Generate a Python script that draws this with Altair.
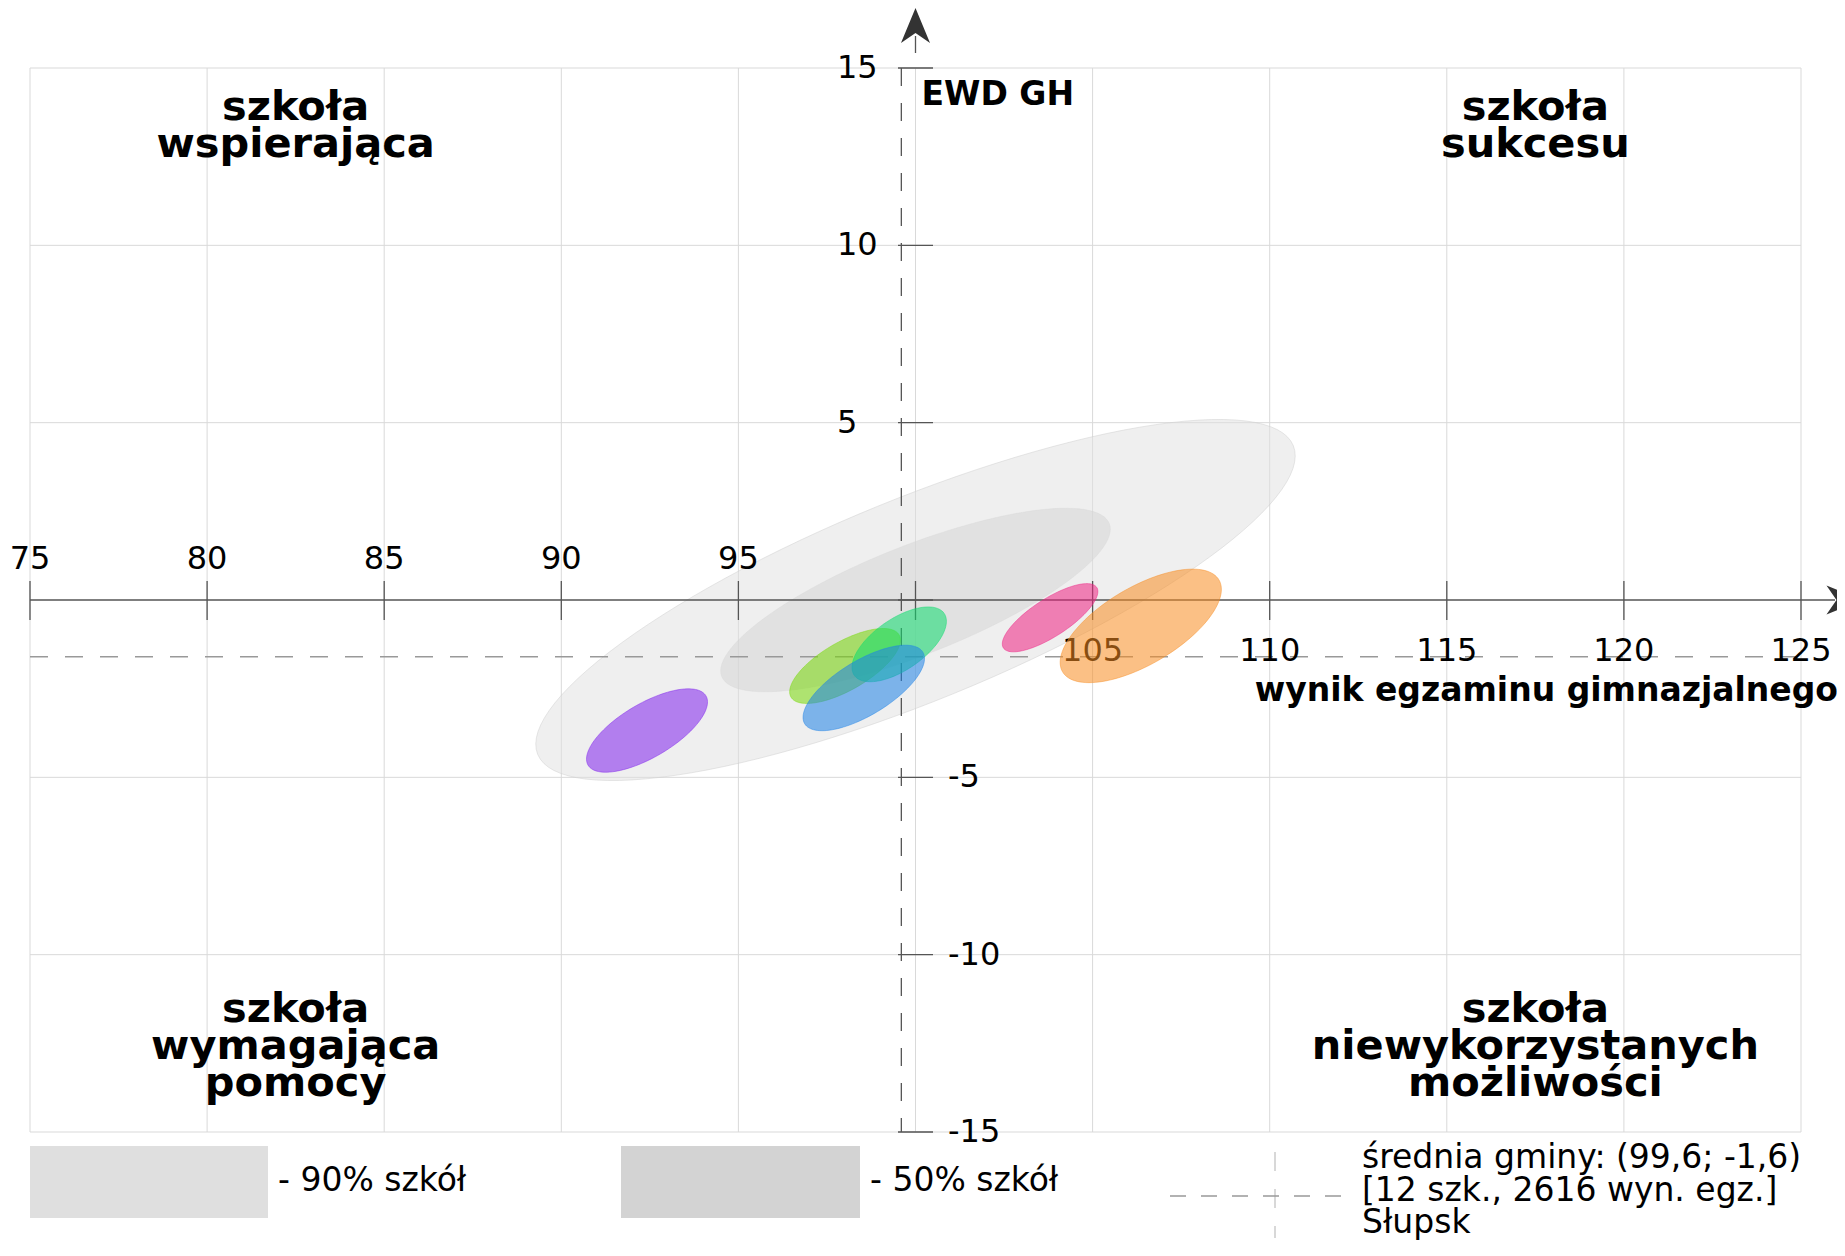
import altair as alt
import pandas as pd

# ---------------- data ----------------
x_ticks = [75, 80, 85, 90, 95, 100, 105, 110, 115, 120, 125]
y_ticks = [-15, -10, -5, 0, 5, 10, 15]
x_labels_above = [75, 80, 85, 90, 95]
x_labels_below = [105, 110, 115, 120, 125]
y_labels_left = [5, 10, 15]
y_labels_left_txt = ["5", "10", "15"]
y_labels_right = [-5, -10, -15]
y_labels_right_txt = ["-5", "-10", "-15"]

# ellipses: population (90%, 50%) and schools
ell_names = ["p90", "p50", "s1", "s2", "s3", "s4", "s5", "s6"]
ell_cx = [100.0, 100.0, 92.42, 98.01, 99.54, 98.54, 103.80, 106.36]
ell_cy = [0.0, 0.0, -3.68, -1.86, -1.25, -2.48, -0.50, -0.73]
ell_a = [11.52, 5.88, 1.93, 1.76, 1.54, 1.95, 1.57, 2.56]
ell_b = [2.85, 1.54, 0.76, 0.68, 0.72, 0.77, 0.53, 1.09]
ell_angle = [22.2, 21.5, 30.4, 29.9, 34.5, 31.2, 32.9, 30.4]

mean_x = 99.6
mean_y = -1.6

quad_x = [82.5, 117.5, 82.5, 117.5]
quad_y = [13.52, 13.52, -11.90, -11.90]
quad_text = ["szkoła\nwspierająca", "szkoła\nsukcesu",
             "szkoła\nwymagająca\npomocy", "szkoła\nniewykorzystanych\nmożliwości"]

legend_lines = ["średnia gminy: (99,6; -1,6)", "[12 szk., 2616 wyn. egz.]", "Słupsk"]

# ---------------- style ----------------
FONT = "DejaVu Sans"
W, H = 1771, 1064
ell_style = {
    "p90": ("#dfdfdf", 0.5, "#d0d0d0", 0.5),
    "p50": ("#d3d3d3", 0.5, "#d3d3d3", 0.3),
    "s1": ("#7f21ed", 0.55, "#7f21ed", 0.45),
    "s2": ("#78d907", 0.55, "#78d907", 0.45),
    "s3": ("#0ddc6e", 0.55, "#0ddc6e", 0.45),
    "s4": ("#1e82e6", 0.55, "#1e82e6", 0.45),
    "s5": ("#ee2182", 0.55, "#ee2182", 0.45),
    "s6": ("#f78c21", 0.55, "#f78c21", 0.45),
}

xs = alt.Scale(domain=[75, 125], nice=False, zero=False)
ys = alt.Scale(domain=[-15, 15], nice=False, zero=False)


def X(f):
    return alt.X(f, type="quantitative", scale=xs, axis=None)


def Y(f):
    return alt.Y(f, type="quantitative", scale=ys, axis=None)


def XD(v):
    return alt.XDatum(v, scale=xs, axis=None)


def YD(v):
    return alt.YDatum(v, scale=ys, axis=None)


one = pd.DataFrame({"k": [0]})
layers = []

# grid
layers.append(alt.Chart(pd.DataFrame({"v": x_ticks})).mark_rule(color="#d9d9d9", strokeWidth=1).encode(
    x=X("v:Q"), y=YD(-15), y2=alt.datum(15)))
layers.append(alt.Chart(pd.DataFrame({"v": y_ticks[:3] + y_ticks[4:]})).mark_rule(color="#d9d9d9", strokeWidth=1).encode(
    y=Y("v:Q"), x=XD(75), x2=alt.datum(125)))

# ellipses
ell_df = pd.DataFrame({"name": ell_names, "cx": ell_cx, "cy": ell_cy,
                       "a": ell_a, "b": ell_b, "ang": ell_angle})
ell_base = (alt.Chart(ell_df)
            .transform_calculate(t="sequence(0, 362, 3)")
            .transform_flatten(["t"])
            .transform_calculate(r="datum.t * PI / 180")
            .transform_calculate(q="datum.ang * PI / 180")
            .transform_calculate(px="datum.cx + datum.a*cos(datum.r)*cos(datum.q) - datum.b*sin(datum.r)*sin(datum.q)")
            .transform_calculate(py="datum.cy + datum.a*cos(datum.r)*sin(datum.q) + datum.b*sin(datum.r)*cos(datum.q)"))


def ellipse(n):
    fc, fo, sc, so = ell_style[n]
    return ell_base.transform_filter(alt.datum.name == n).mark_line(strokeWidth=1).encode(
        x=X("px:Q"), y=Y("py:Q"), order=alt.Order("t:Q"),
        fill=alt.value(fc), fillOpacity=alt.value(fo),
        stroke=alt.value(sc), strokeOpacity=alt.value(so))


layers.append(ellipse("p90"))
layers.append(ellipse("p50"))

# mean lines
layers.append(alt.Chart(one).mark_rule(color="#999999", strokeWidth=1.3, strokeDash=[18, 17]).encode(
    y=YD(mean_y), x=XD(75), x2=alt.datum(125)))
layers.append(alt.Chart(one).mark_rule(color="#555555", strokeWidth=1.3, strokeDash=[18, 17]).encode(
    x=XD(mean_x), y=YD(15), y2=alt.datum(-15)))

# axes through zero
layers.append(alt.Chart(one).mark_rule(color="#555555", strokeWidth=1.3).encode(
    x=XD(75), x2=alt.value(1805), y=YD(0)))
layers.append(alt.Chart(one).mark_rule(color="#555555", strokeWidth=1.3).encode(
    x=XD(100), y=alt.value(-32), y2=alt.datum(-15)))
# ticks
layers.append(alt.Chart(pd.DataFrame({"v": x_ticks})).mark_rule(color="#555555", strokeWidth=1.3).encode(
    x=X("v:Q"), y=alt.value(513), y2=alt.value(552)))
layers.append(alt.Chart(pd.DataFrame({"v": y_ticks})).mark_rule(color="#555555", strokeWidth=1.3).encode(
    y=Y("v:Q"), x=alt.value(868), x2=alt.value(903)))

# arrows
arrow_up = "M 0 -1 L 0.83 1 L 0 0.43 L -0.83 1 Z"
arrow_right = "M 1 0 L -1 -0.83 L -0.43 0 L -1 0.83 Z"
layers.append(alt.Chart(one).mark_point(shape=arrow_up, size=1225, filled=True, color="#333333",
                                        opacity=1, strokeWidth=0).encode(
    x=XD(100), y=alt.value(-42.5)))
layers.append(alt.Chart(one).mark_point(shape=arrow_right, size=1225, filled=True, color="#333333",
                                        opacity=1, strokeWidth=0).encode(
    y=YD(0), x=alt.value(1814)))

# tick labels
tick_font = dict(font=FONT, fontSize=32, color="#000000")
leg_font = dict(font=FONT, fontSize=33, color="#000000")
layers.append(alt.Chart(pd.DataFrame({"v": x_labels_above})).mark_text(
    align="center", baseline="alphabetic", **tick_font).encode(
    x=X("v:Q"), y=alt.value(501), text=alt.Text("v:Q", format="d")))
layers.append(alt.Chart(pd.DataFrame({"v": x_labels_below})).mark_text(
    align="center", baseline="alphabetic", **tick_font).encode(
    x=X("v:Q"), y=alt.value(593), text=alt.Text("v:Q", format="d")))
layers.append(alt.Chart(pd.DataFrame({"v": y_labels_left, "t": y_labels_left_txt})).mark_text(
    align="left", baseline="middle", **tick_font).encode(
    y=Y("v:Q"), x=alt.value(807), text="t:N"))
layers.append(alt.Chart(pd.DataFrame({"v": y_labels_right, "t": y_labels_right_txt})).mark_text(
    align="left", baseline="middle", **tick_font).encode(
    y=Y("v:Q"), x=alt.value(918), text="t:N"))

# axis titles
layers.append(alt.Chart(one).mark_text(font=FONT, fontSize=33, fontWeight="bold", align="left",
                                       baseline="alphabetic", color="#000000", dx=6).encode(
    x=XD(100), y=alt.value(37), text=alt.value("EWD GH")))
layers.append(alt.Chart(one).mark_text(font=FONT, fontSize=33, fontWeight="bold", align="right",
                                       baseline="alphabetic", color="#000000").encode(
    x=alt.value(1808), y=alt.value(633), text=alt.value("wynik egzaminu gimnazjalnego")))

# quadrant labels
layers.append(alt.Chart(pd.DataFrame({"x": quad_x, "y": quad_y, "t": quad_text})).mark_text(
    font=FONT, fontSize=41.5, fontWeight="bold", align="center", baseline="alphabetic",
    lineBreak="\n", lineHeight=37, color="#000000").encode(
    x=X("x:Q"), y=Y("y:Q"), text="t:N"))

# school ellipses on top
for n in ["s1", "s2", "s3", "s4", "s5", "s6"]:
    layers.append(ellipse(n))

# legend
layers.append(alt.Chart(one).mark_rect(color="#dfdfdf").encode(
    x=alt.value(0), x2=alt.value(238), y=alt.value(1078), y2=alt.value(1150)))
layers.append(alt.Chart(one).mark_rect(color="#d3d3d3").encode(
    x=alt.value(591), x2=alt.value(830), y=alt.value(1078), y2=alt.value(1150)))
layers.append(alt.Chart(one).mark_text(align="left", baseline="alphabetic", **leg_font).encode(
    x=alt.value(248), y=alt.value(1123), text=alt.value("- 90% szkół")))
layers.append(alt.Chart(one).mark_text(align="left", baseline="alphabetic", **leg_font).encode(
    x=alt.value(840), y=alt.value(1123), text=alt.value("- 50% szkół")))
layers.append(alt.Chart(one).mark_rule(color="#c4c4c4", strokeWidth=1.3, strokeDash=[19, 18]).encode(
    x=alt.value(1245), y=alt.value(1084), y2=alt.value(1170)))
layers.append(alt.Chart(one).mark_rule(color="#999999", strokeWidth=1.3, strokeDash=[16, 15]).encode(
    x=alt.value(1140), x2=alt.value(1312), y=alt.value(1128)))
legend_y = [1100, 1133, 1165]
for i, line in enumerate(legend_lines):
    layers.append(alt.Chart(one).mark_text(align="left", baseline="alphabetic", **leg_font).encode(
        x=alt.value(1332), y=alt.value(legend_y[i]), text=alt.value(line)))

chart = alt.layer(*layers).properties(
    width=W, height=H,
    padding={"left": 22, "top": 60, "right": 36, "bottom": 110},
    autosize="none",
    background="white",
).configure_view(stroke=None)

chart.save("out.html", embed_options={"renderer": "svg", "actions": False})
